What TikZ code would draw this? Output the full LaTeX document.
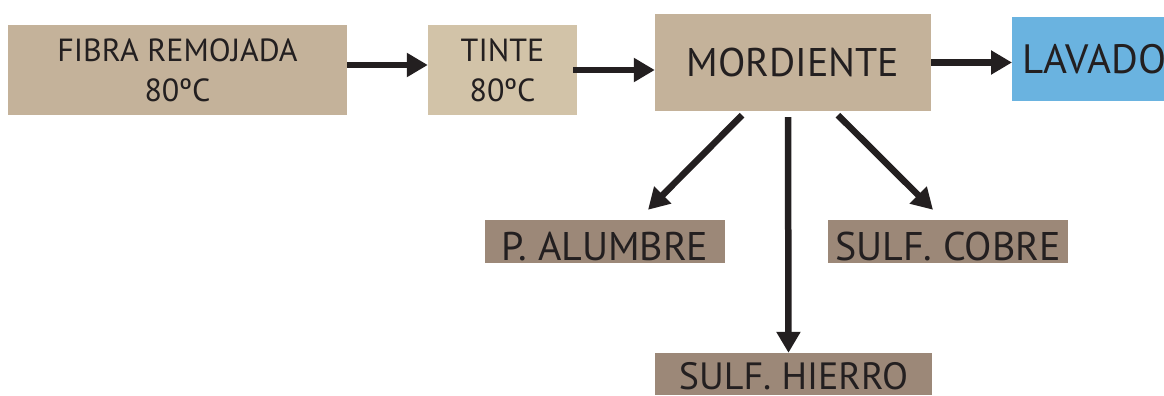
\documentclass[tikz,border=0pt]{standalone}
\usepackage{fontspec}
\setmainfont{PT Sans}
\usetikzlibrary{arrows.meta}

\definecolor{ink}{HTML}{231F20}
\definecolor{beige}{HTML}{C4B29A}
\definecolor{lightbeige}{HTML}{D2C3A8}
\definecolor{brown}{HTML}{9C8878}
\definecolor{skyblue}{HTML}{6AB3E0}

\tikzset{
  box/.style={fill=#1, text=ink, inner sep=0pt, align=center},
  flow/.style={draw=ink, line width=6.5pt, -{Triangle[length=21pt,width=23pt]}},
}

\begin{document}
\begin{tikzpicture}[x=1pt,y=-1pt]

\useasboundingbox (0,0) rectangle (1164,396);

% Row 1

\node[box=beige, minimum width=339pt, minimum height=89pt,
      font=\fontsize{32}{40}\selectfont] (fibra) at (177.5,70) {FIBRA REMOJADA\\80ºC};
\node[box=lightbeige, minimum width=149pt, minimum height=89pt,
      font=\fontsize{32}{40}\selectfont] (tinte) at (502.5,70) {TINTE\\80ºC};
\node[box=beige, minimum width=276pt, minimum height=97pt,
      font=\fontsize{40}{48}\selectfont] (mordiente) at (793,62.5) {MORDIENTE};
\node[box=skyblue, anchor=west, inner xsep=10pt, minimum height=84pt,
      font=\fontsize{41}{48}\selectfont] (lavado) at (1012,59) {LAVADO};

\draw[flow] ([yshift=5pt]fibra.east) -- ([yshift=5pt]tinte.west);
\draw[flow] ([xshift=-4pt]tinte.east) -- (mordiente.west |- tinte.east);
\draw[flow] (mordiente.east) -- (mordiente.east -| lavado.west);

% Row 2

\node[box=brown, minimum width=240pt, text height=40pt, text depth=3pt,
      font=\fontsize{40}{48}\selectfont] (alumbre) at (605,241.5) {P. ALUMBRE};
\node[box=brown, minimum width=240pt, text height=40pt, text depth=3pt,
      font=\fontsize{40}{48}\selectfont] (cobre) at (948,241.5) {SULF. COBRE};

\draw[flow] ([xshift=-51pt,yshift=-4pt]mordiente.south) -- ([xshift=43pt,yshift=10pt]alumbre.north);
\draw[flow] ([xshift=45pt,yshift=-4pt]mordiente.south) -- ([xshift=-15pt,yshift=10pt]cobre.north);

% Row 3

\node[box=brown, minimum width=277pt, text height=36pt, text depth=6pt,
      font=\fontsize{38}{48}\selectfont] (hierro) at (793.5,374) {SULF. HIERRO};

\draw[flow] ([xshift=-5pt,yshift=-6pt]mordiente.south) -- ([xshift=-5pt]hierro.north);

\end{tikzpicture}
\end{document}
